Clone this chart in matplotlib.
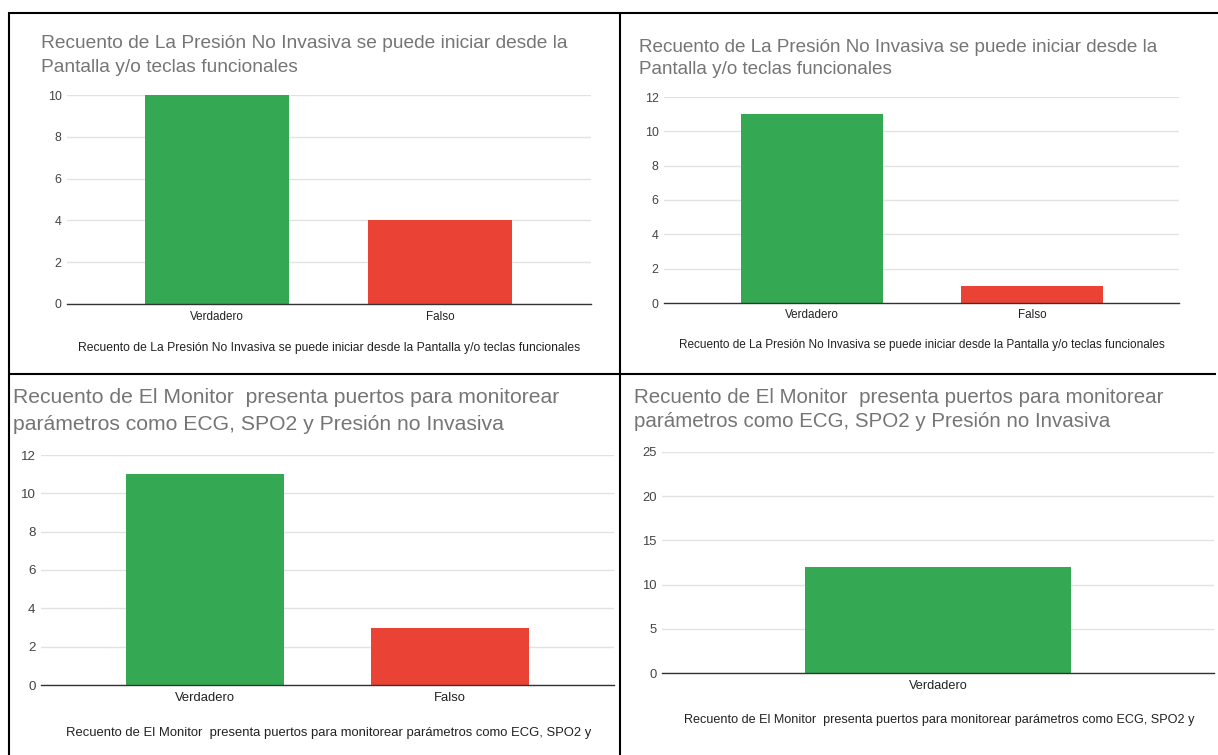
import matplotlib.pyplot as plt
from matplotlib.lines import Line2D

# survey answers (counts per option)
cats_two = ["Verdadero", "Falso"]
cats_one = ["Verdadero"]
pantalla_a = [10, 4]
pantalla_b = [11, 1]
monitor_a = [11, 3]
monitor_b = [12]

title_pantalla = ["Recuento de La Presión No Invasiva se puede iniciar desde la",
                  "Pantalla y/o teclas funcionales"]
axis_pantalla = "Recuento de La Presión No Invasiva se puede iniciar desde la Pantalla y/o teclas funcionales"
title_monitor = ["Recuento de El Monitor  presenta puertos para monitorear",
                 "parámetros como ECG, SPO2 y Presión no Invasiva"]
axis_monitor = "Recuento de El Monitor  presenta puertos para monitorear parámetros como ECG, SPO2 y"

W, H = 1218, 755
GREEN = "#34a853"
RED = "#ea4335"

plt.rcParams['font.family'] = ['Liberation Sans', 'DejaVu Sans']

fig = plt.figure(figsize=(W / 100, H / 100), dpi=100)
fig.patch.set_facecolor("white")


def fx(x):
    return x / W


def fy(y):
    return 1 - y / H


def chart(cats, vals, box, ymax, ystep, xlim, width, title, title_x, title_base, title_size,
          axis_title, axis_xy, tick_size, ytick_size, axis_size, xpad):
    left, top, right, bottom = box
    ax = fig.add_axes([fx(left), fy(bottom), fx(right) - fx(left), fy(top) - fy(bottom)])
    colors = [GREEN, RED][:len(cats)]
    ax.bar(range(len(cats)), vals, width=width, color=colors, zorder=3)
    ax.set_xlim(*xlim)
    ax.set_ylim(0, ymax)
    ax.set_yticks(range(0, ymax + 1, ystep))
    ax.set_xticks(range(len(cats)))
    ax.set_xticklabels(cats)
    ax.grid(axis='y', color="#e2e2e2", linewidth=1.0, zorder=0)
    for s in ["top", "right", "left"]:
        ax.spines[s].set_visible(False)
    ax.spines["bottom"].set_color("#333333")
    ax.spines["bottom"].set_linewidth(1.0)
    ax.spines["bottom"].set_zorder(4)
    ax.tick_params(axis='y', length=0, pad=4, labelsize=ytick_size, labelcolor="#444444")
    ax.tick_params(axis='x', length=0, pad=xpad, labelsize=tick_size, labelcolor="#222222")
    ax.set_facecolor("white")
    for line, base in zip(title, title_base):
        fig.text(fx(title_x), fy(base), line, ha='left', va='baseline',
                 fontsize=title_size, color="#757575")
    fig.text(fx(axis_xy[0]), fy(axis_xy[1]), axis_title, ha='center', va='center',
             fontsize=axis_size, color="#222222")
    return ax


chart(cats_two, pantalla_a, (67, 95, 591, 304), 10, 2, (-0.673, 1.677), 0.646,
      title_pantalla, 41, (48.5, 71.5), 13.8, axis_pantalla, (329, 348), 8.4, 8.9, 8.7, 5)
chart(cats_two, pantalla_b, (664, 97, 1179, 303), 12, 2, (-0.673, 1.668), 0.645,
      title_pantalla, 639, (51.5, 74), 13.6, axis_pantalla, (922, 345), 8.4, 8.9, 8.5, 4)
chart(cats_two, monitor_a, (41, 455, 614, 685), 12, 2, (-0.669, 1.669), 0.645,
      title_monitor, 13, (403, 430), 15.2, axis_monitor, (329, 733), 9.4, 9.6, 9.4, 5)
chart(cats_one, monitor_b, (662, 452, 1214, 673), 25, 5, (-0.5, 0.5), 0.482,
      title_monitor, 634, (403, 427), 14.8, axis_monitor, (939, 720), 9.2, 9.4, 9.1, 5)

# table borders around the four panels
border = dict(color="black", linewidth=1.5, solid_capstyle='butt')
fig.add_artist(Line2D([fx(8), fx(1218)], [fy(12.5), fy(12.5)], **border))
fig.add_artist(Line2D([fx(8.5), fx(8.5)], [fy(12), fy(755)], **border))
fig.add_artist(Line2D([fx(620), fx(620)], [fy(12), fy(755)], **border))
fig.add_artist(Line2D([fx(8), fx(1216)], [fy(373.5), fy(373.5)], **border))

fig.savefig("out.png", dpi=100)
